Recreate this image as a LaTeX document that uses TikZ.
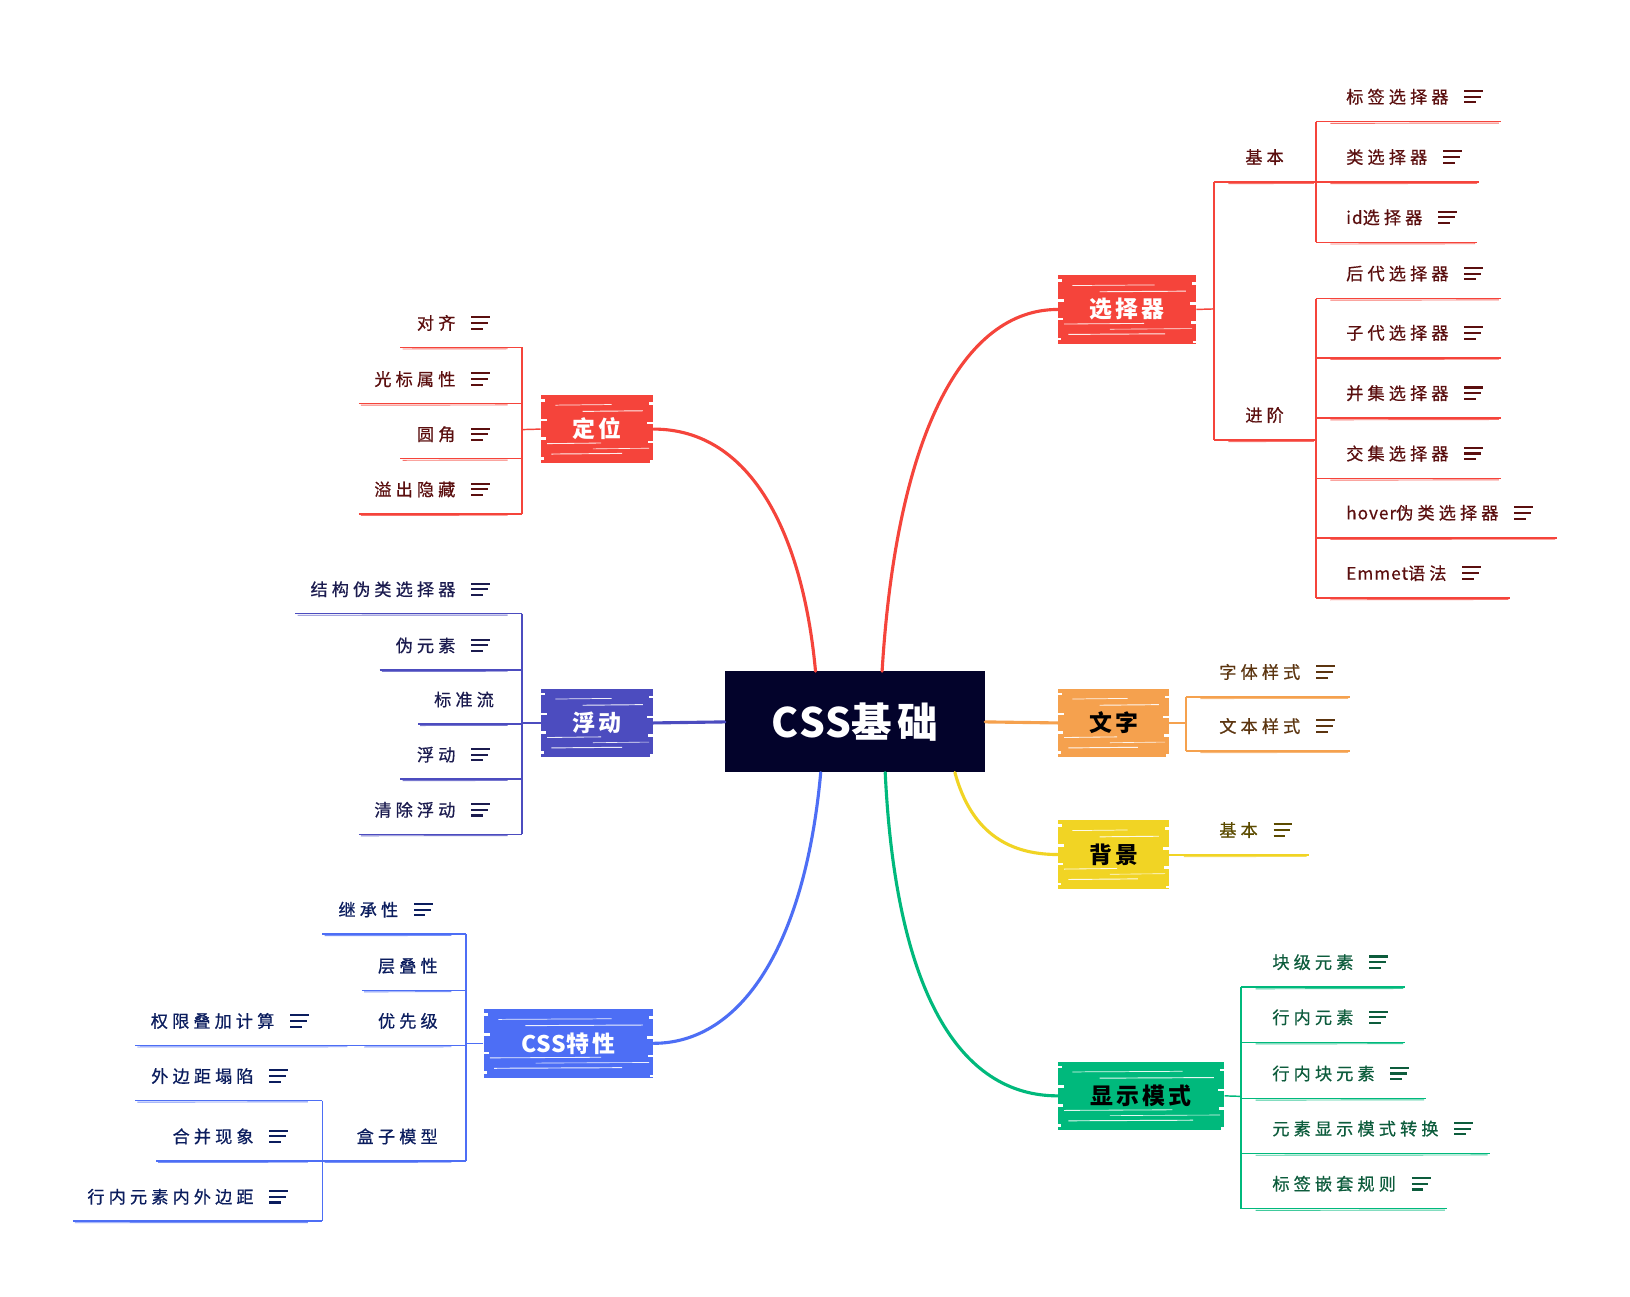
\documentclass[tikz,border=0pt]{standalone}
\usepackage{fontspec}
\newfontfamily\cjk[LetterSpace=24,FakeBold=0.6]{Noto Sans CJK SC}
\newfontfamily\cjkb[LetterSpace=14]{Noto Sans CJK SC}
\newfontfamily\lat[LetterSpace=6,FakeBold=0.6]{Noto Sans CJK SC}
\newfontfamily\latb[LetterSpace=4]{Noto Sans CJK SC}
\usetikzlibrary{calc}
\definecolor{croot}{HTML}{03032B}
\definecolor{cred}{HTML}{F5443B}
\definecolor{cindigo}{HTML}{4C4CBF}
\definecolor{cblue}{HTML}{4D6EF5}
\definecolor{corange}{HTML}{F5A14E}
\definecolor{cyellow}{HTML}{F1D424}
\definecolor{cgreen}{HTML}{00B97C}
\definecolor{tred}{HTML}{5B0F0F}
\definecolor{tindigo}{HTML}{1B1B4F}
\definecolor{tblue}{HTML}{0B1D5E}
\definecolor{torange}{HTML}{5C3510}
\definecolor{tyellow}{HTML}{5C4B00}
\definecolor{tgreen}{HTML}{0D5C3C}
\colorlet{tc}{black}
\colorlet{bc}{black}
\newcommand\rleaf[6]{%
  \node[leaf,anchor=west] (#1) at (#3,#4-24) {#6};
  \coordinate (#1-a) at (#2,#4);
  \coordinate (#1-b) at (#5,#4);
  \draw[uline] (#1-a) -- (#1-b);
  \draw[uline2] ($(#1-a)+(14,1.6)$) -- ($(#1-b)+(-2,1.3)$);
}
\newcommand\lleaf[6]{%
  \node[leaf,anchor=east] (#1) at (#3,#4-23.5) {#6};
  \coordinate (#1-a) at (#5,#4);
  \coordinate (#1-b) at (#2,#4);
  \draw[uline] (#1-a) -- (#1-b);
  \draw[uline2] ($(#1-a)+(2,1.5)$) -- ($(#1-b)+(-14,1.3)$);
}
\newcommand\noteicon[1]{%
  \draw[icon] ($([xshift=15pt]#1.east)+(0,-5.5)$) -- +(18,0);
  \draw[icon] ($([xshift=15pt]#1.east)$) -- +(16,0);
  \draw[icon] ($([xshift=15pt]#1.east)+(0,5.5)$) -- +(11,0);
}
\begin{document}
\begin{tikzpicture}[x=1pt,y=-1pt,
  leaf/.style={font=\cjk\fontsize{16.5}{16.5}\selectfont, text=tc, inner sep=0pt},
  uline/.style={draw=bc, line width=1.4pt},
  uline2/.style={draw=bc, line width=0.9pt, opacity=0.75},
  bline/.style={draw=bc, line width=1.4pt},
  icon/.style={draw=tc, line width=2pt},
  conn/.style={line width=3pt, line cap=round},
  scrib/.style={path picture={
    \foreach \yy/\xa/\xb/\ww in {-10/14/-40/0.7, -16/40/-10/0.9, -47/6/-50/0.8, -52/50/-4/0.6, -57/10/-30/0.9}{
      \draw[white, line width=\ww pt, opacity=0.9]
        ([xshift=\xa pt, yshift=\yy pt]path picture bounding box.north west) --
        ([xshift=\xb pt, yshift=\yy pt+0.6pt]path picture bounding box.north east);
    }
    \foreach \yy/\ll in {-4/4, -23/6, -41/5, -60/3}{
      \fill[white] ([yshift=\yy pt]path picture bounding box.north west) rectangle +(\ll pt,-2.5pt);
      \fill[white] ([yshift=\yy pt-3pt]path picture bounding box.north east) rectangle +(-\ll pt,-2.5pt);
    }}},
  mainbox/.style={scrib, inner sep=0pt, minimum height=66pt,
    font=\cjkb\bfseries\fontsize{22}{22}\selectfont}
]
\useasboundingbox (0,0) rectangle (1567,1246);
\fill[white] (0,0) rectangle (1567,1246);

% ---------- main nodes ----------
\node[fill=croot, minimum width=250pt, minimum height=97pt, inner sep=0pt,
  text=white, font=\cjkb\bfseries\fontsize{39}{39}\selectfont] (root) at (822,694) {{\latb\bfseries CSS}基础};
\node[mainbox, fill=cred, text=white, minimum width=133pt] (sel) at (1083.5,297.5) {选择器};
\node[mainbox, fill=cred, text=white, minimum width=108pt] (pos) at (574,412.5) {定位};
\node[mainbox, fill=cindigo, text=white, minimum width=108pt] (flt) at (574,695) {浮动};
\node[mainbox, fill=cblue, text=white, minimum width=163pt] (prop) at (546.5,1003) {{\latb\bfseries CSS}特性};
\node[mainbox, fill=corange, text=black, minimum width=107pt] (txt) at (1070.5,695) {文字};
\node[mainbox, fill=cyellow, text=black, minimum width=107pt] (bg) at (1070.5,821.5) {背景};
\node[mainbox, fill=cgreen, text=black, minimum width=160pt] (disp) at (1097,1053.5) {显示模式};

% ---------- main connectors ----------
\draw[conn, cred] ([xshift=26pt]root.north) .. controls +(14,-230) and +(-90,0) .. (sel.west);
\draw[conn, cred] ([xshift=-38pt]root.north) .. controls +(-12,-130) and +(95,0) .. (pos.east);
\draw[conn, cindigo] (root.west) -- (flt.east);
\draw[conn, cblue] ([xshift=-33pt]root.south) .. controls +(-15,165) and +(85,0) .. (prop.east);
\draw[conn, corange] (root.east) -- (txt.west);
\draw[conn, cyellow] ([xshift=96pt]root.south) .. controls +(15,55) and +(-50,0) .. (bg.west);
\draw[conn, cgreen] ([xshift=29pt]root.south) .. controls +(10,210) and +(-95,0) .. (disp.west);

% ---------- 选择器 ----------
\begin{scope}
\colorlet{tc}{tred}\colorlet{bc}{cred}
\coordinate (selj) at (1167,297);
\coordinate (selt) at (1167,175);
\coordinate (selb) at (1167,423);
\draw[bline] (sel.east) -- (selj);
\draw[bline] (selt) -- (selb);
\rleaf{jb}{1167}{1197}{175}{1265}{基本}
\rleaf{jj}{1167}{1197}{423}{1265}{进阶}
\coordinate (jbt) at (1265,117);
\coordinate (jbb) at (1265,233);
\coordinate (jjt) at (1265,287);
\coordinate (jjb) at (1265,575);
\draw[bline] (jbt) -- (jbb);
\draw[bline] (jjt) -- (jjb);
\rleaf{s1}{1265}{1294}{117}{1443}{标签选择器}\noteicon{s1}
\rleaf{s2}{1265}{1294}{175}{1422}{类选择器}\noteicon{s2}
\rleaf{s3}{1265}{1294}{233}{1420}{{\lat id}选择器}\noteicon{s3}
\rleaf{s4}{1265}{1294}{287}{1443}{后代选择器}\noteicon{s4}
\rleaf{s5}{1265}{1294}{344}{1443}{子代选择器}\noteicon{s5}
\rleaf{s6}{1265}{1294}{402}{1443}{并集选择器}\noteicon{s6}
\rleaf{s7}{1265}{1294}{460}{1443}{交集选择器}\noteicon{s7}
\rleaf{s8}{1265}{1294}{517}{1497}{{\lat hover}伪类选择器}\noteicon{s8}
\rleaf{s9}{1265}{1294}{575}{1452}{{\lat Emmet}语法}\noteicon{s9}
\end{scope}

% ---------- 定位 ----------
\begin{scope}
\colorlet{tc}{tred}\colorlet{bc}{cred}
\coordinate (posj) at (502,413);
\coordinate (post) at (502,334);
\coordinate (posb) at (502,494);
\draw[bline] (pos.west) -- (posj);
\draw[bline] (post) -- (posb);
\lleaf{p1}{502}{438}{334}{385}{对齐}\noteicon{p1}
\lleaf{p2}{502}{438}{388}{345}{光标属性}\noteicon{p2}
\lleaf{p3}{502}{438}{441}{385}{圆角}\noteicon{p3}
\lleaf{p4}{502}{438}{494}{345}{溢出隐藏}\noteicon{p4}
\end{scope}

% ---------- 浮动 ----------
\begin{scope}
\colorlet{tc}{tindigo}\colorlet{bc}{cindigo}
\coordinate (fltj) at (502,695);
\coordinate (fltt) at (502,590);
\coordinate (fltb) at (502,802);
\draw[bline] (flt.west) -- (fltj);
\draw[bline] (fltt) -- (fltb);
\lleaf{f1}{502}{438}{590}{284}{结构伪类选择器}\noteicon{f1}
\lleaf{f2}{502}{438}{644}{365}{伪元素}\noteicon{f2}
\lleaf{f3}{502}{475}{696}{402}{标准流}
\lleaf{f4}{502}{438}{749}{385}{浮动}\noteicon{f4}
\lleaf{f5}{502}{438}{802}{345}{清除浮动}\noteicon{f5}
\end{scope}

% ---------- CSS特性 ----------
\begin{scope}
\colorlet{tc}{tblue}\colorlet{bc}{cblue}
\coordinate (propj) at (448,1003);
\coordinate (propt) at (448,898);
\coordinate (propb) at (448,1116);
\draw[bline] (prop.west) -- (propj);
\draw[bline] (propt) -- (propb);
\lleaf{c1}{448}{383}{898}{310}{继承性}\noteicon{c1}
\lleaf{c2}{448}{421}{952}{348}{层叠性}
\lleaf{c3}{448}{421}{1005}{348}{优先级}
\lleaf{c4}{448}{421}{1116}{310}{盒子模型}
\lleaf{c5}{348}{264}{1005}{130}{权限叠加计算}\noteicon{c5}
\coordinate (boxt) at (310,1058);
\coordinate (boxb) at (310,1174);
\draw[bline] (boxt) -- (boxb);
\lleaf{c6}{310}{244}{1058}{130}{外边距塌陷}\noteicon{c6}
\lleaf{c7}{310}{244}{1116}{150}{合并现象}\noteicon{c7}
\lleaf{c8}{310}{244}{1174}{70}{行内元素内外边距}\noteicon{c8}
\end{scope}

% ---------- 文字 ----------
\begin{scope}
\colorlet{tc}{torange}\colorlet{bc}{corange}
\coordinate (txtj) at (1140,695);
\coordinate (txtt) at (1140,670);
\coordinate (txtb) at (1140,722);
\draw[bline] (txt.east) -- (txtj);
\draw[bline] (txtt) -- (txtb);
\rleaf{t1}{1140}{1172}{670}{1298}{字体样式}\noteicon{t1}
\rleaf{t2}{1140}{1172}{722}{1298}{文本样式}\noteicon{t2}
\end{scope}

% ---------- 背景 ----------
\begin{scope}
\colorlet{tc}{tyellow}\colorlet{bc}{cyellow}
\rleaf{b1}{1124}{1172}{822}{1258}{基本}\noteicon{b1}
\end{scope}

% ---------- 显示模式 ----------
\begin{scope}
\colorlet{tc}{tgreen}\colorlet{bc}{cgreen}
\coordinate (dispj) at (1193,1054);
\coordinate (dispt) at (1193,949);
\coordinate (dispb) at (1193,1162);
\draw[bline] (disp.east) -- (dispj);
\draw[bline] (dispt) -- (dispb);
\rleaf{g1}{1193}{1223}{949}{1351}{块级元素}\noteicon{g1}
\rleaf{g2}{1193}{1223}{1002}{1351}{行内元素}\noteicon{g2}
\rleaf{g3}{1193}{1223}{1056}{1371}{行内块元素}\noteicon{g3}
\rleaf{g4}{1193}{1223}{1109}{1432}{元素显示模式转换}\noteicon{g4}
\rleaf{g5}{1193}{1223}{1162}{1391}{标签嵌套规则}\noteicon{g5}
\end{scope}
\end{tikzpicture}
\end{document}
